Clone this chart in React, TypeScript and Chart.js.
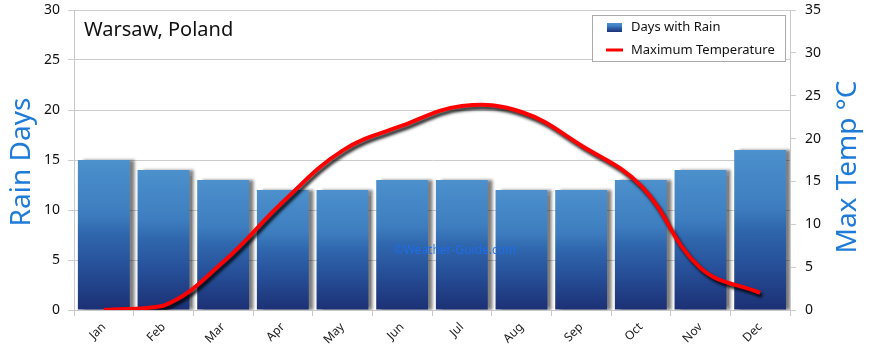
import React, { useEffect, useRef } from "react";
import { Chart, registerables } from "chart.js";

Chart.register(...registerables);

const months = ["Jan", "Feb", "Mar", "Apr", "May", "Jun", "Jul", "Aug", "Sep", "Oct", "Nov", "Dec"];
const rainDays = [15, 14, 13, 12, 12, 13, 13, 12, 12, 13, 14, 16];
const maxTemp = [0, 0.5, 5.6, 12.6, 18.6, 21.5, 23.8, 23.1, 19.2, 14.5, 4.9, 2];
const chartTitle = "Warsaw, Poland";
const leftTitle = "Rain Days";
const rightTitle = "Max Temp °C";
const legendLabels = ["Days with Rain", "Maximum Temperature"];
const watermark = "©Weather-Guide.com";

const FONT = "'Noto Sans', 'DejaVu Sans', sans-serif";

function barGradient(ctx: CanvasRenderingContext2D, top: number, bottom: number) {
  const g = ctx.createLinearGradient(0, top, 0, bottom);
  g.addColorStop(0, "#4c90cc");
  g.addColorStop(0.35, "#3e7ec0");
  g.addColorStop(0.5, "#2f66ad");
  g.addColorStop(0.72, "#264f98");
  g.addColorStop(1, "#1c3074");
  return g;
}

const decoPlugin = {
  id: "deco",
  beforeDatasetDraw(chart: any, args: any) {
    const ctx = chart.ctx;
    ctx.save();
    if (args.meta.type === "bar") {
      ctx.shadowColor = "rgba(0,0,0,0.5)";
      ctx.shadowOffsetX = 5;
      ctx.shadowOffsetY = 0;
      ctx.shadowBlur = 3;
    } else {
      ctx.shadowColor = "rgba(0,0,0,0.85)";
      ctx.shadowOffsetX = 2;
      ctx.shadowOffsetY = 3;
      ctx.shadowBlur = 3;
    }
  },
  afterDatasetDraw(chart: any) {
    chart.ctx.restore();
  },
  afterDatasetsDraw(chart: any) {
    const ctx = chart.ctx;
    ctx.save();
    // watermark
    ctx.fillStyle = "rgba(30,110,235,0.9)";
    ctx.font = `12px ${FONT}`;
    ctx.textAlign = "center";
    ctx.textBaseline = "middle";
    ctx.fillText(watermark, 455, 251);
    // title
    ctx.fillStyle = "#111";
    ctx.font = `20px ${FONT}`;
    ctx.textAlign = "left";
    ctx.fillText(chartTitle, 84, 30);
    // legend
    ctx.fillStyle = "#ffffff";
    ctx.fillRect(592, 15, 193, 46);
    ctx.strokeStyle = "#aaaaaa";
    ctx.lineWidth = 1;
    ctx.strokeRect(592.5, 15.5, 193, 46);
    ctx.fillStyle = barGradient(ctx, 23, 32);
    ctx.fillRect(607, 23, 15, 9);
    ctx.strokeStyle = "#ff0000";
    ctx.lineWidth = 3;
    ctx.beginPath();
    ctx.moveTo(606, 50);
    ctx.lineTo(623, 50);
    ctx.stroke();
    ctx.fillStyle = "#111";
    ctx.font = `13px ${FONT}`;
    ctx.textBaseline = "middle";
    ctx.fillText(legendLabels[0], 631, 27);
    ctx.fillText(legendLabels[1], 631, 50);
    // axis titles
    ctx.fillStyle = "#1f7bd8";
    ctx.font = `28px ${FONT}`;
    ctx.textAlign = "center";
    ctx.save();
    ctx.translate(22, 162);
    ctx.rotate(-Math.PI / 2);
    ctx.fillText(leftTitle, 0, 0);
    ctx.restore();
    ctx.save();
    ctx.translate(848, 167);
    ctx.rotate(-Math.PI / 2);
    ctx.fillText(rightTitle, 0, 0);
    ctx.restore();
    ctx.restore();
  },
};

export default function App() {
  const ref = useRef<HTMLCanvasElement>(null);
  useEffect(() => {
    document.body.style.margin = "0";
    const canvas = ref.current!;
    const chart = new Chart(canvas, {
      type: "bar",
      data: {
        labels: months,
        datasets: [
          {
            type: "line",
            label: legendLabels[1],
            data: maxTemp,
            yAxisID: "y1",
            borderColor: "#ff0000",
            borderWidth: 4,
            pointRadius: 0,
            tension: 0.4,
            fill: false,
            order: 0,
          } as any,
          {
            type: "bar",
            label: legendLabels[0],
            data: rainDays,
            yAxisID: "y",
            backgroundColor: (c: any) => {
              const chart = c.chart;
              if (!chart.chartArea || c.raw == null) return "#2e64ab";
              const ys = chart.scales.y;
              return barGradient(chart.ctx, ys.getPixelForValue(c.raw), ys.getPixelForValue(0));
            },
            borderWidth: 0,
            categoryPercentage: 1,
            barPercentage: 0.87,
            order: 1,
          },
        ],
      },
      options: {
        responsive: false,
        animation: false,
        layout: { padding: { top: 10, left: 0, right: 0, bottom: 0 } },
        plugins: { legend: { display: false }, tooltip: { enabled: false }, title: { display: false } },
        scales: {
          x: {
            grid: { display: true, drawOnChartArea: false, drawTicks: true, tickLength: 6, color: "#c8c8c8", offset: true },
            border: { display: true, color: "#c8c8c8" },
            ticks: {
              color: "#222",
              font: { size: 12, family: FONT },
              minRotation: 45,
              maxRotation: 45,
              padding: 4,
            },
            afterFit: (s: any) => {
              s.height = 42;
              s.paddingLeft = 0;
              s.paddingRight = 0;
            },
          },
          y: {
            position: "left",
            min: 0,
            max: 30,
            ticks: { stepSize: 5, color: "#111", font: { size: 14, family: FONT }, padding: 8 },
            grid: { color: "#cccccc", tickLength: 6 },
            border: { display: true, color: "#c8c8c8" },
            afterFit: (s: any) => {
              s.width = 74;
              s.paddingTop = 0;
              s.paddingBottom = 0;
            },
          },
          y1: {
            position: "right",
            min: 0,
            max: 35,
            ticks: { stepSize: 5, color: "#111", font: { size: 14, family: FONT }, padding: 9 },
            grid: { drawOnChartArea: false, color: "#cccccc", tickLength: 6 },
            border: { display: true, color: "#c8c8c8" },
            afterFit: (s: any) => {
              s.width = 80;
              s.paddingTop = 0;
              s.paddingBottom = 0;
            },
          },
        },
      },
      plugins: [decoPlugin],
    });
    return () => chart.destroy();
  }, []);
  return (
    <div style={{ position: "absolute", left: 0, top: 0, width: 870, height: 352, background: "#fff" }}>
      <canvas ref={ref} width={870} height={352} style={{ display: "block" }} />
    </div>
  );
}
